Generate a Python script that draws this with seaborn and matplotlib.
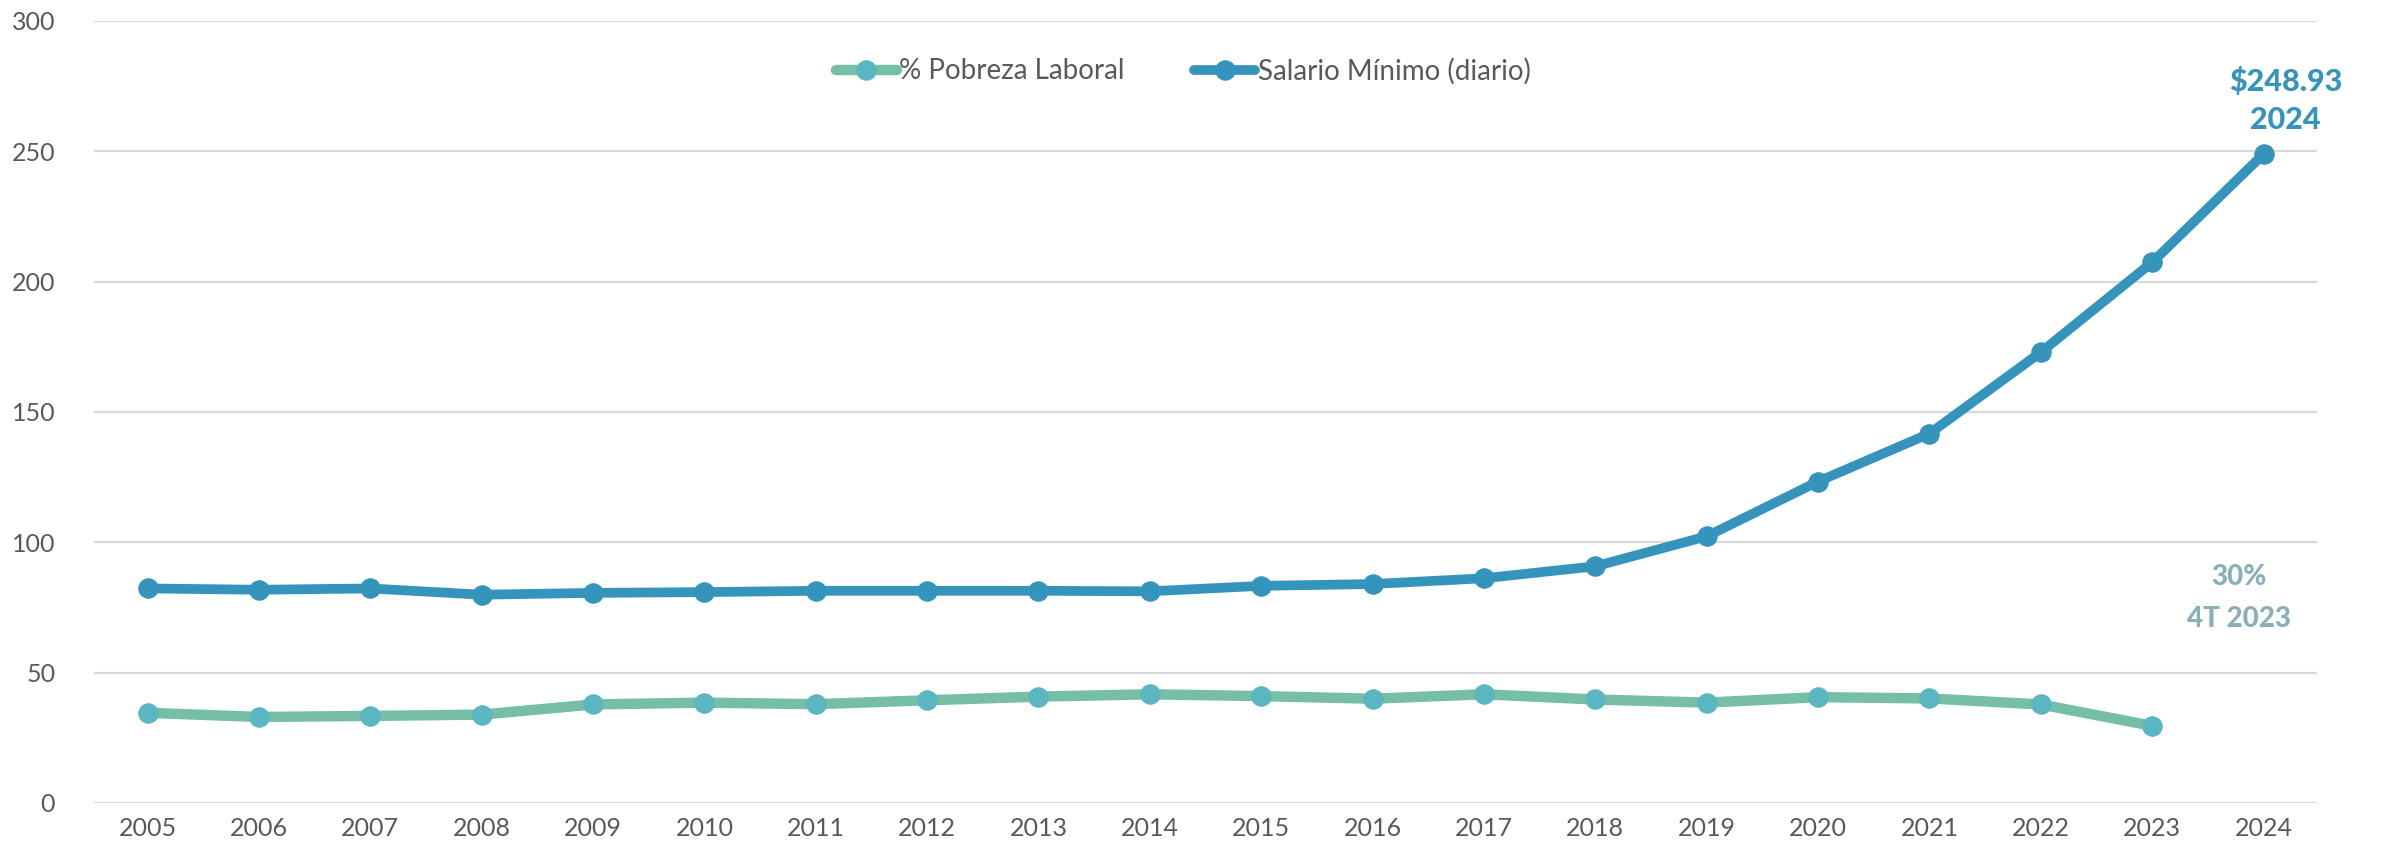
import matplotlib
matplotlib.use("Agg")
import matplotlib.pyplot as plt
import seaborn as sns
import pandas as pd

years = [str(y) for y in range(2005, 2025)]
salario = [82.3, 81.8, 82.3, 79.9, 80.6, 80.9, 81.4, 81.4, 81.4, 81.2,
           83.3, 84.0, 86.2, 90.8, 102.3, 123.3, 141.7, 172.9, 207.4, 248.93]
pobreza_years = [str(y) for y in range(2005, 2024)]
pobreza = [34.6, 33.0, 33.4, 33.9, 37.8, 38.5, 37.9, 39.4, 40.8, 41.7,
           41.0, 40.0, 41.7, 39.7, 38.5, 40.6, 40.1, 37.8, 29.6]
yticks = [0, 50, 100, 150, 200, 250, 300]

sns.set_theme(style="white")
plt.rcParams['font.family'] = ['Lato', 'DejaVu Sans']

fig = plt.figure(figsize=(23.82, 8.6), dpi=100)
ax = fig.add_axes([0.0395, 0.0663, 0.9332, 0.9093])

pos = {y: i for i, y in enumerate(years)}
df_s = pd.DataFrame({"x": [pos[y] for y in years], "v": salario})
df_p = pd.DataFrame({"x": [pos[y] for y in pobreza_years], "v": pobreza})

c_sal = "#3594BC"
c_pob_line = "#76BEA6"
c_pob_mark = "#5AB6C0"

for yv in yticks:
    ax.axhline(yv, color="#D9D9D9", lw=1.6, zorder=0)

sns.lineplot(data=df_p, x="x", y="v", ax=ax, color=c_pob_line, lw=7.5,
             marker="o", markersize=14, markerfacecolor=c_pob_mark,
             markeredgecolor=c_pob_mark, label="% Pobreza Laboral", zorder=3)
sns.lineplot(data=df_s, x="x", y="v", ax=ax, color=c_sal, lw=7,
             marker="o", markersize=14, markerfacecolor=c_sal,
             markeredgecolor=c_sal, label="Salario Mínimo (diario)", zorder=4)

ax.set_xlim(-0.48, len(years) - 0.52)
ax.set_ylim(0, 300)
ax.set_xticks(range(len(years)))
ax.set_xticklabels(years)
ax.set_yticks(yticks)
ax.tick_params(axis="both", length=0, labelsize=18, labelcolor="#595959")
ax.tick_params(axis="y", pad=28)
ax.tick_params(axis="x", pad=10)
ax.set_xlabel("")
ax.set_ylabel("")
for s in ax.spines.values():
    s.set_visible(False)

leg = ax.legend(loc="center", bbox_to_anchor=(0.49, 0.936), ncol=2,
                frameon=False, fontsize=20, handlelength=2.2,
                columnspacing=2.5, handletextpad=0.1)
for t in leg.get_texts():
    t.set_color("#595959")

ax.text(19.2, 269.5, "$248.93\n2024", ha="center", va="center", fontsize=22,
        fontweight="black", color=c_sal, linespacing=1.45)
ax.text(18.78, 78.5, "30%\n4T 2023", ha="center", va="center", fontsize=20,
        fontweight="black", color="#8AAFB9", linespacing=1.75)

fig.savefig("out.png", dpi=100)
